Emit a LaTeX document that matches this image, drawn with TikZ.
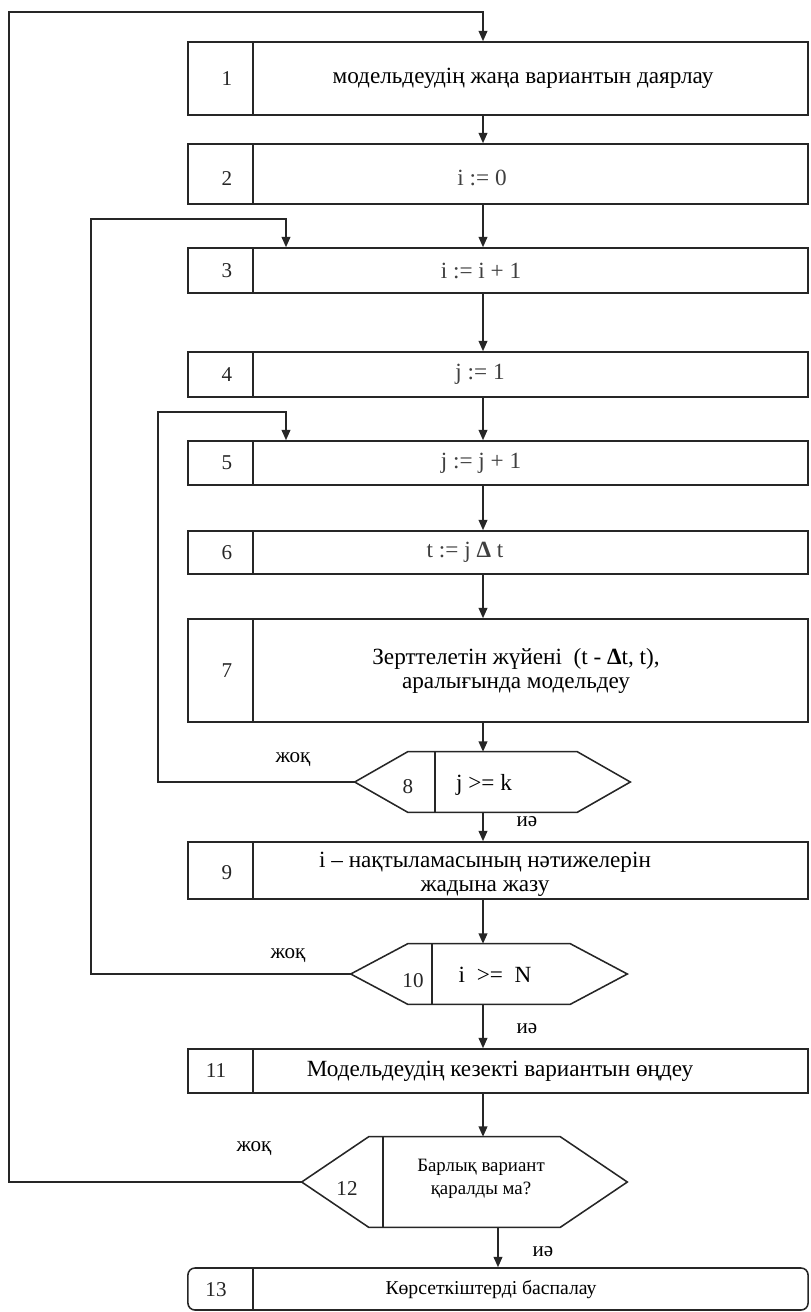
\documentclass[tikz,border=0pt]{standalone}
\usepackage{fontspec}
\setmainfont{Liberation Serif}
\usetikzlibrary{arrows.meta}

\begin{document}
\begin{tikzpicture}[
  x=0.025cm, y=-0.025cm,
  blk/.style={draw=black!85, line width=1.1pt, minimum width=15.5cm, minimum height=#1, inner sep=0pt},
  cond/.style n args={2}{inner sep=0pt, minimum width=#1, minimum height=#2},
  edge/.style={line width=1.1pt, black!85, line join=miter},
  num/.style={font=\fontsize{15}{17}\selectfont, text=black!85},
  txt/.style={font=\fontsize{16.5}{17}\selectfont, align=center},
  frm/.style={font=\fontsize{16.5}{18}\selectfont, text=black!75},
  lbl/.style={font=\fontsize{15}{17}\selectfont},
  arr/.style={-{Triangle[length=2.6mm,width=2.2mm]}, line width=1.1pt, draw=black!85}
]
\useasboundingbox (0,0) rectangle (810,1312);

% ---- blocks ----
\node[blk=1.825cm] (b1)  at (498,78.5)  {};
\node[blk=1.5cm]   (b2)  at (498,174)   {};
\node[blk=1.125cm] (b3)  at (498,270.5) {};
\node[blk=1.125cm] (b4)  at (498,374.5) {};
\node[blk=1.1cm]   (b5)  at (498,463)   {};
\node[blk=1.075cm] (b6)  at (498,552.5) {};
\node[blk=2.575cm] (b7)  at (498,670.5) {};
\node[cond={6.875cm}{1.5cm}]   (h8)  at (492.5,782) {};
\node[blk=1.425cm] (b9)  at (498,870.5) {};
\node[cond={6.9cm}{1.5cm}]     (h10) at (489,974)   {};
\node[blk=1.1cm]   (b11) at (498,1071)  {};
\node[cond={8.125cm}{2.25cm}]  (h12) at (464.5,1182) {};
\node[blk=1.05cm, rounded corners=5pt] (b13) at (498,1289) {};

% ---- decision outlines ----
\draw[edge] (h8.west) -- ([xshift=1.325cm]h8.north west) -- ([xshift=-1.325cm]h8.north east)
  -- (h8.east) -- ([xshift=-1.325cm]h8.south east) -- ([xshift=1.325cm]h8.south west) -- cycle;
\draw[edge] (h10.west) -- ([xshift=1.425cm]h10.north west) -- ([xshift=-1.425cm]h10.north east)
  -- (h10.east) -- ([xshift=-1.425cm]h10.south east) -- ([xshift=1.425cm]h10.south west) -- cycle;
\draw[edge] (h12.west) -- ([xshift=1.675cm]h12.north west) -- ([xshift=-1.675cm]h12.north east)
  -- (h12.east) -- ([xshift=-1.675cm]h12.south east) -- ([xshift=1.675cm]h12.south west) -- cycle;

% ---- dividers ----
\draw[edge] ([xshift=1.65cm]b1.north west)  -- ([xshift=1.65cm]b1.south west);
\draw[edge] ([xshift=1.65cm]b2.north west)  -- ([xshift=1.65cm]b2.south west);
\draw[edge] ([xshift=1.65cm]b3.north west)  -- ([xshift=1.65cm]b3.south west);
\draw[edge] ([xshift=1.65cm]b4.north west)  -- ([xshift=1.65cm]b4.south west);
\draw[edge] ([xshift=1.65cm]b5.north west)  -- ([xshift=1.65cm]b5.south west);
\draw[edge] ([xshift=1.65cm]b6.north west)  -- ([xshift=1.65cm]b6.south west);
\draw[edge] ([xshift=1.65cm]b7.north west)  -- ([xshift=1.65cm]b7.south west);
\draw[edge] ([xshift=-1.4375cm]h8.north)    -- ([xshift=-1.4375cm]h8.south);
\draw[edge] ([xshift=1.65cm]b9.north west)  -- ([xshift=1.65cm]b9.south west);
\draw[edge] ([xshift=-1.425cm]h10.north)    -- ([xshift=-1.425cm]h10.south);
\draw[edge] ([xshift=1.65cm]b11.north west) -- ([xshift=1.65cm]b11.south west);
\draw[edge] ([xshift=-2.0375cm]h12.north)   -- ([xshift=-2.0375cm]h12.south);
\draw[edge] ([xshift=1.65cm]b13.north west) -- ([xshift=1.65cm]b13.south west);

% ---- numbers ----
\node[num] (n1)  at (227,78.5)  {1};
\node[num] (n2)  at (227,179)   {2};
\node[num] (n3)  at (227,270.5) {3};
\node[num] (n4)  at (227,374.5) {4};
\node[num] (n5)  at (227,463)   {5};
\node[num] (n6)  at (227,552.5) {6};
\node[num] (n7)  at (227,670.5) {7};
\node[num] (n8)  at (408,787)   {8};
\node[num] (n9)  at (227,873)   {9};
\node[num] (n10) at (413,981)   {10};
\node[num] (n11) at (216,1071)  {11};
\node[num] (n12) at (347,1189)  {12};
\node[num] (n13) at (216,1290)  {13};

% ---- texts ----
\node[txt] (t1) at (523,78) {модельдеудің жаңа вариантын даярлау};
\node[frm] (t2) at (482,178)   {i := 0};
\node[frm] (t3) at (481,270.5) {i := i + 1};
\node[frm] (t4) at (480,374.5) {j := 1};
\node[frm] (t5) at (481,463)   {j := j + 1};
\node[frm] (t6) at (465,552.5) {t := j {\bfseries Δ} t};
\node[txt] (t7)  at (516,671)  {Зерттелетін жүйені \ (t - {\bfseries Δ}t, t),\\аралығында модельдеу};
\node[frm, text=black] (t8)  at (484,785) {j >= k};
\node[txt] (t9)  at (485,874)  {i – нақтыламасының нәтижелерін\\жадына жазу};
\node[frm, text=black] (t10) at (495,975) {i~ >=~ N};
\node[txt] (t11) at (500,1071) {Модельдеудің кезекті вариантын өңдеу};
\node[txt, font=\fontsize{13.4}{16.5}\selectfont] (t12) at (481,1179) {Барлық вариант\\қаралды ма?};
\node[txt, font=\fontsize{14}{16}\selectfont] (t13) at (491,1290) {Көрсеткіштерді баспалау};

% ---- branch labels ----
\node[lbl] (no8)   at (293,760)  {жоқ};
\node[lbl] (yes8)  at (527,822)  {иә};
\node[lbl] (no10)  at (288,956)  {жоқ};
\node[lbl] (yes10) at (527,1029) {иә};
\node[lbl] (no12)  at (254,1149) {жоқ};
\node[lbl] (yes12) at (543,1252) {иә};

% ---- main flow ----
\coordinate (ax) at (483,0);
\draw[arr] (b1.south -| ax)  -- (b2.north -| ax);
\draw[arr] (b2.south -| ax)  -- (b3.north -| ax);
\draw[arr] (b3.south -| ax)  -- (b4.north -| ax);
\draw[arr] (b4.south -| ax)  -- (b5.north -| ax);
\draw[arr] (b5.south -| ax)  -- (b6.north -| ax);
\draw[arr] (b6.south -| ax)  -- (b7.north -| ax);
\draw[arr] (b7.south -| ax)  -- (h8.north -| ax);
\draw[arr] (h8.south -| ax)  -- (b9.north -| ax);
\draw[arr] (b9.south -| ax)  -- (h10.north -| ax);
\draw[arr] (h10.south -| ax) -- (b11.north -| ax);
\draw[arr] (b11.south -| ax) -- (h12.north -| ax);
\draw[arr] (h12.south -| b13.north) -- (b13.north);

% ---- loops back ----
\coordinate (c1) at (9,12);
\coordinate (c2) at (91,219);
\coordinate (c3) at (158,412);
\coordinate (e3) at (286,0);
\draw[arr] (h12.west) -| (c1) -| (b1.north -| ax);
\draw[arr] (h10.west) -| (c2) -| (b3.north -| e3);
\draw[arr] (h8.west)  -| (c3) -| (b5.north -| e3);

\end{tikzpicture}
\end{document}
